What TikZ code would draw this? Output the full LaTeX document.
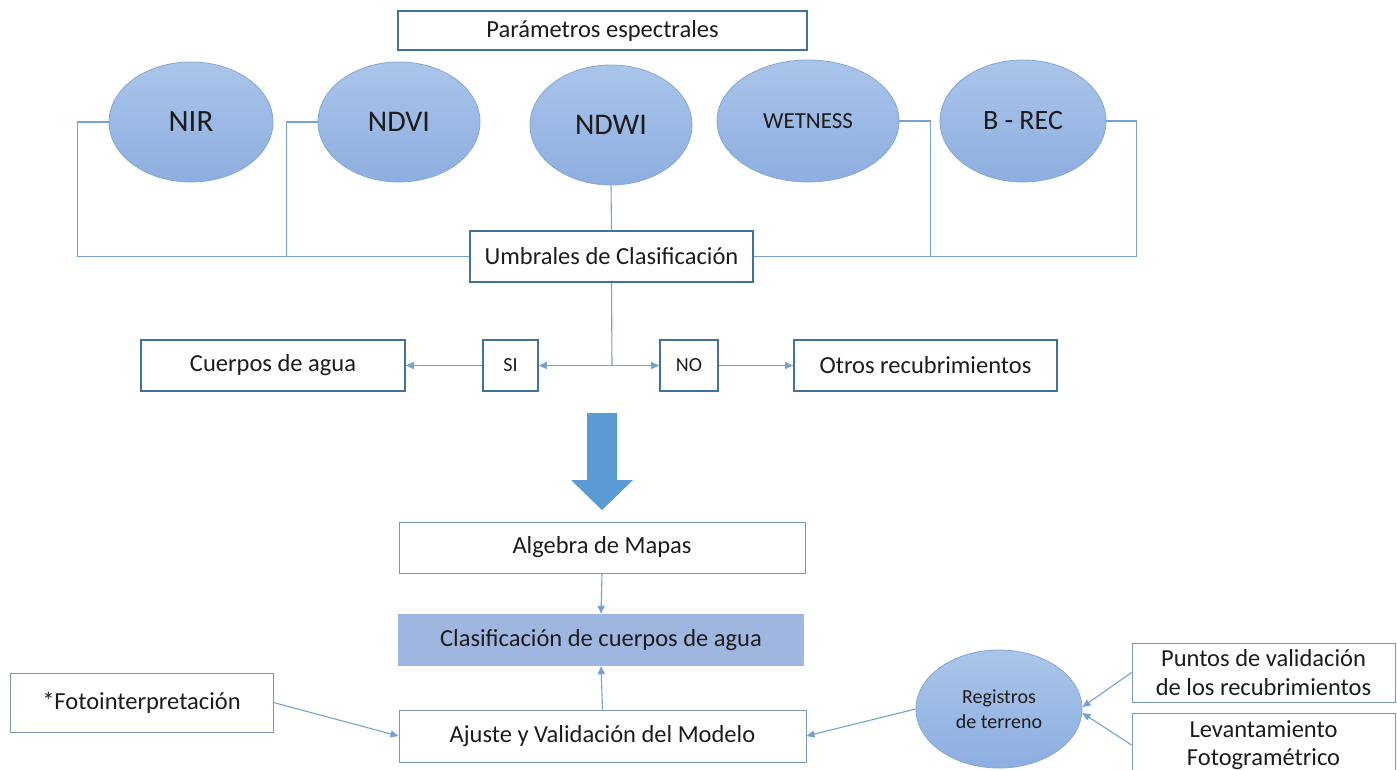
\documentclass[tikz,border=0pt]{standalone}
\usepackage{fontspec}
\setmainfont{Carlito}
\usetikzlibrary{shapes.geometric,arrows.meta}
\newcommand\myfs[2]{\fontsize{#1}{#2}\selectfont}
\definecolor{boxline}{HTML}{41719C}
\definecolor{thinline}{HTML}{7B96B2}
\definecolor{connc}{HTML}{76A2D2}
\definecolor{ellline}{HTML}{86A6D4}
\definecolor{elltop}{HTML}{AAC5EA}
\definecolor{ellbot}{HTML}{8DAEE0}
\definecolor{clasfill}{HTML}{9FB6E0}
\definecolor{bigarr}{HTML}{5B9BD5}
\definecolor{txt}{HTML}{1C1C1C}
\tikzset{
  thickbox/.style={draw=boxline, line width=1.7pt, fill=white, text=txt, inner sep=0pt, align=center, font=\myfs{24.5}{28.5}},
  thinbox/.style={draw=thinline, line width=1pt, fill=white, text=txt, inner sep=0pt, align=center, font=\myfs{24.5}{28.5}},
  ell/.style={ellipse, draw=ellline, line width=0.8pt, top color=elltop, bottom color=ellbot, text=txt, inner sep=0pt, align=center},
  conn/.style={draw=connc, line width=1.1pt},
  arr/.style={conn, -{Triangle[length=8pt,width=7pt]}},
}
\begin{document}
\begin{tikzpicture}[x=1pt,y=-1pt]
\useasboundingbox[fill=white] (0,0) rectangle (1397,769);

% top box
\node[thickbox, minimum width=409, minimum height=39] (par) at (602.5,30.5) {Parámetros espectrales};

% ellipses
\node[ell, minimum width=164, minimum height=120, font=\myfs{31}{34}] (nir) at (191,122) {NIR};
\node[ell, minimum width=162, minimum height=120, font=\myfs{30}{34}] (ndvi) at (399,122) {NDVI};
\node[ell, minimum width=162, minimum height=120, font=\myfs{30}{34}] (ndwi) at (611,125) {NDWI};
\node[ell, minimum width=182, minimum height=122, font=\myfs{23}{28}] (wet) at (808,121) {WETNESS};
\node[ell, minimum width=166, minimum height=122, font=\myfs{28}{32}] (brec) at (1023,121) {B - REC};

% classification thresholds
\node[thickbox, minimum width=283, minimum height=51] (umb) at (611.5,256.5) {Umbrales de Clasificación};

\draw[conn] (nir.west) -- ++(-31,0) |- (umb.west);
\draw[conn] (ndvi.west) -- ++(-31,0) |- (umb.west);
\draw[conn] (ndwi.south) -- (umb.north);
\draw[conn] (wet.east) -- ++(31,0) |- (umb.east);
\draw[conn] (brec.east) -- ++(30,0) |- (umb.east);

% SI / NO row
\node[thickbox, minimum width=264, minimum height=51] (cue) at (273,365.5) {Cuerpos de agua};
\node[thickbox, minimum width=55, minimum height=51, font=\myfs{20}{24}] (si) at (510.5,365.5) {SI};
\node[thickbox, minimum width=58, minimum height=51, font=\myfs{20}{24}] (no) at (689,365.5) {NO};
\node[thickbox, minimum width=263, minimum height=51] (otr) at (925.5,365.5) {Otros recubrimientos};

\coordinate (j) at (612,365.5);
\draw[conn] (umb.south) -- (j);
\draw[arr] (j) -- (si.east);
\draw[arr] (j) -- (no.west);
\draw[arr] (si.west) -- (cue.east);
\draw[arr] (no.east) -- (otr.west);

% big arrow
\fill[bigarr] (587,413) -- (617,413) -- (617,480) -- (633,480) -- (602,510) -- (571,480) -- (587,480) -- cycle;

% lower part
\node[thinbox, minimum width=406, minimum height=51] (alg) at (602,547.5) {Algebra de Mapas};
\node[fill=clasfill, text=txt, inner sep=0pt, minimum width=406, minimum height=52, font=\myfs{24.5}{28.5}] (cla) at (601,640) {Clasificación de cuerpos de agua};
\node[thinbox, minimum width=407, minimum height=52] (aju) at (602.5,736) {Ajuste y Validación del Modelo};
\node[thinbox, minimum width=263, minimum height=59] (foto) at (141.5,702.5) {*Fotointerpretación};

\node[ell, minimum width=166, minimum height=118, font=\myfs{20}{25}] (reg) at (999,709) {Registros\\de terreno};
\node[thinbox, minimum width=263, minimum height=59] (pun) at (1263.5,672.5) {Puntos de validación\\de los recubrimientos};
\node[thinbox, minimum width=263, minimum height=64] (lev) at (1263.5,745) {Levantamiento\\Fotogramétrico};

\draw[arr] (alg.south) -- (cla.north);
\draw[arr] (aju.north) -- (cla.south);
\draw[arr] (foto.east) -- (aju.west);
\draw[arr] (reg.west) -- (aju.east);
\draw[arr] (pun.west) -- ([yshift=2pt]reg.east);
\draw[arr] (lev.west) -- ([yshift=-4pt]reg.east);
\end{tikzpicture}
\end{document}
